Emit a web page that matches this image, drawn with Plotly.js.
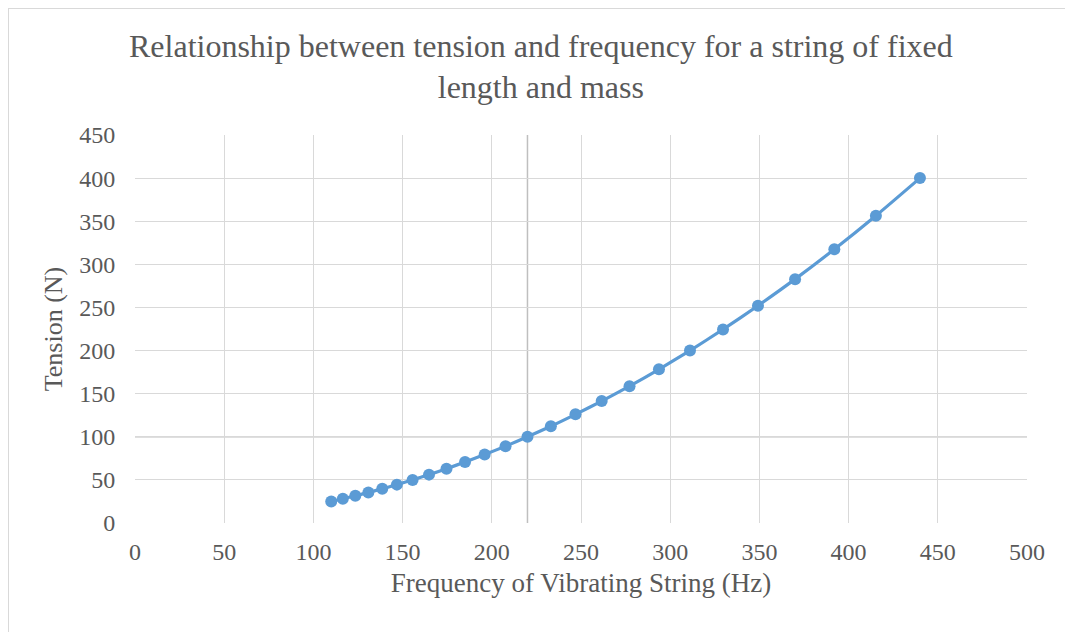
<!DOCTYPE html>
<html><head><meta charset="utf-8">
<script src="https://cdn.plot.ly/plotly-3.0.1.min.js"></script>
<style>
html,body{margin:0;padding:0;background:#fff;}
#wrap{position:absolute;left:8px;top:8px;width:1065px;height:640px;border:1px solid #d9d9d9;box-sizing:border-box;}
#chart{position:absolute;left:0;top:0;width:1065px;height:632px;}
</style></head>
<body>
<div id="wrap"></div>
<div id="chart"></div>
<script>
var freq = [110, 116.5, 123.5, 130.8, 138.6, 146.8, 155.6, 164.8, 174.6, 185, 196, 207.7, 220, 233.1, 246.9, 261.6, 277.2, 293.7, 311.1, 329.6, 349.2, 370, 392, 415.3, 440];
var tension = [25, 28.1, 31.5, 35.4, 39.7, 44.5, 50, 56.1, 63, 70.7, 79.4, 89.1, 100, 112.2, 126, 141.4, 158.7, 178.2, 200, 224.5, 252, 282.8, 317.5, 356.4, 400];
var xTicks = [0, 50, 100, 150, 200, 250, 300, 350, 400, 450, 500];
var yTicks = [0, 50, 100, 150, 200, 250, 300, 350, 400, 450];
var refX = 220, refY = 100;

var font = '"Times New Roman", "Liberation Serif", Tinos, "DejaVu Serif", serif';
var trace = {
  x: freq, y: tension, type: 'scatter', mode: 'lines+markers',
  line: {color: '#5b9bd5', width: 3.2, shape: 'spline', smoothing: 0.6},
  marker: {color: '#5b9bd5', size: 12},
  hoverinfo: 'x+y'
};
var layout = {
  width: 1065, height: 632,
  margin: {l: 135, r: 38, t: 135, b: 109},
  paper_bgcolor: 'rgba(0,0,0,0)', plot_bgcolor: '#fff',
  showlegend: false,
  font: {family: font, color: '#595959'},
  title: {
    text: 'Relationship between tension and frequency for a string of fixed<br>length and mass',
    font: {family: font, size: 32, color: '#595959'},
    x: 0.455, xref: 'paper', xanchor: 'center', y: 0.91, yanchor: 'middle'
  },
  xaxis: {
    range: [0, 500], tickvals: xTicks, ticktext: xTicks.map(String),
    showgrid: true, gridcolor: '#d9d9d9', gridwidth: 1, zeroline: false,
    showline: false, ticks: 'outside', ticklen: 7, tickcolor: 'rgba(0,0,0,0)',
    tickfont: {family: font, size: 24, color: '#595959'},
    title: {text: 'Frequency of Vibrating String (Hz)', font: {family: font, size: 27, color: '#595959'}, standoff: 9},
    fixedrange: true
  },
  yaxis: {
    range: [0, 450], tickvals: yTicks, ticktext: yTicks.map(String),
    showgrid: true, gridcolor: '#d9d9d9', gridwidth: 1, zeroline: false,
    showline: false, ticks: 'outside', ticklen: 14, tickcolor: 'rgba(0,0,0,0)',
    tickfont: {family: font, size: 24, color: '#595959'},
    title: {text: 'Tension (N)', font: {family: font, size: 26, color: '#595959'}, standoff: 9},
    fixedrange: true
  },
  shapes: [
    {type: 'line', xref: 'x', yref: 'paper', x0: refX, x1: refX, y0: 0, y1: 1, line: {color: '#bfbfbf', width: 1.5}, layer: 'below'},
    {type: 'line', xref: 'paper', yref: 'y', x0: 0, x1: 1, y0: refY, y1: refY, line: {color: '#bfbfbf', width: 1.5}, layer: 'below'}
  ]
};
Plotly.newPlot('chart', [trace], layout, {displayModeBar: false, staticPlot: true});
</script>
</body></html>
